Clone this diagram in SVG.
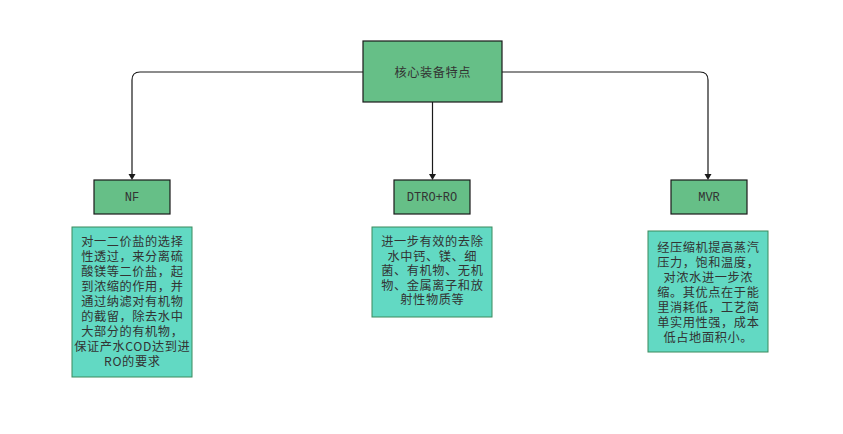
<svg xmlns="http://www.w3.org/2000/svg" width="843" height="434" viewBox="0 0 843 434">
<defs>
<style>
.head{fill:#66bf87;stroke:#1a1a1a;stroke-width:1.2}
.desc{fill:#62d9c3;stroke:#3b8a5c;stroke-width:1}
.t{font-family:"Noto Sans CJK SC","Liberation Sans",sans-serif;font-size:12.2px;letter-spacing:0.6px;fill:#333;text-anchor:middle}
.m{font-family:"Liberation Mono","Noto Sans CJK SC",monospace;font-size:12px;fill:#333;text-anchor:middle}
.c{fill:none;stroke:#1a1a1a;stroke-width:1.2}
.ah{fill:#1a1a1a}
</style>
</defs>
<rect width="843" height="434" fill="#fff"/>
<g id="connectors">
<path class="c" d="M363,72 H140 Q132,72 132,80 V174"/>
<path class="ah" d="M128.5,174 L135.5,174 L132,180 Z"/>
<path class="c" d="M432.5,102 V174"/>
<path class="ah" d="M429,174 L436,174 L432.5,180 Z"/>
<path class="c" d="M502,72 H700 Q708,72 708,80 V174"/>
<path class="ah" d="M704.5,174 L711.5,174 L708,180 Z"/>
</g>
<g id="root">
<rect class="head" x="363" y="41" width="139" height="61"/>
<text class="t" x="432.8" y="76.5">核心装备特点</text>
</g>
<g id="nf">
<rect class="head" x="94" y="180" width="76" height="34"/>
<text class="m" x="132" y="201">NF</text>
</g>
<g id="nf-desc">
<rect class="desc" x="72" y="227" width="120" height="150"/>
<text class="t" x="132.3" y="246">对一二价盐的选择</text>
<text class="t" x="132.3" y="261">性透过，来分离硫</text>
<text class="t" x="132.3" y="276">酸镁等二价盐，起</text>
<text class="t" x="132.3" y="291">到浓缩的作用，并</text>
<text class="t" x="132.3" y="306">通过纳滤对有机物</text>
<text class="t" x="132.3" y="321">的截留，除去水中</text>
<text class="t" x="132.3" y="336">大部分的有机物，</text>
<text class="t" x="132.3" y="351">保证产水COD达到进</text>
<text class="t" x="132.3" y="366">RO的要求</text>
</g>
<g id="dtro">
<rect class="head" x="394" y="180" width="76" height="34"/>
<text class="m" x="432" y="201">DTRO+RO</text>
</g>
<g id="dtro-desc">
<rect class="desc" x="372" y="227" width="120" height="90"/>
<text class="t" x="432.3" y="246">进一步有效的去除</text>
<text class="t" x="432.3" y="260.5">水中钙、镁、细</text>
<text class="t" x="432.3" y="275">菌、有机物、无机</text>
<text class="t" x="432.3" y="289.5">物、金属离子和放</text>
<text class="t" x="432.3" y="304">射性物质等</text>
</g>
<g id="mvr">
<rect class="head" x="671" y="180" width="76" height="34"/>
<text class="m" x="709" y="201">MVR</text>
</g>
<g id="mvr-desc">
<rect class="desc" x="648" y="231" width="120" height="121"/>
<text class="t" x="708.3" y="252">经压缩机提高蒸汽</text>
<text class="t" x="708.3" y="267">压力，饱和温度，</text>
<text class="t" x="708.3" y="282">对浓水进一步浓</text>
<text class="t" x="708.3" y="297">缩。其优点在于能</text>
<text class="t" x="708.3" y="312">里消耗低，工艺简</text>
<text class="t" x="708.3" y="327">单实用性强，成本</text>
<text class="t" x="708.3" y="342">低占地面积小。</text>
</g>
</svg>
